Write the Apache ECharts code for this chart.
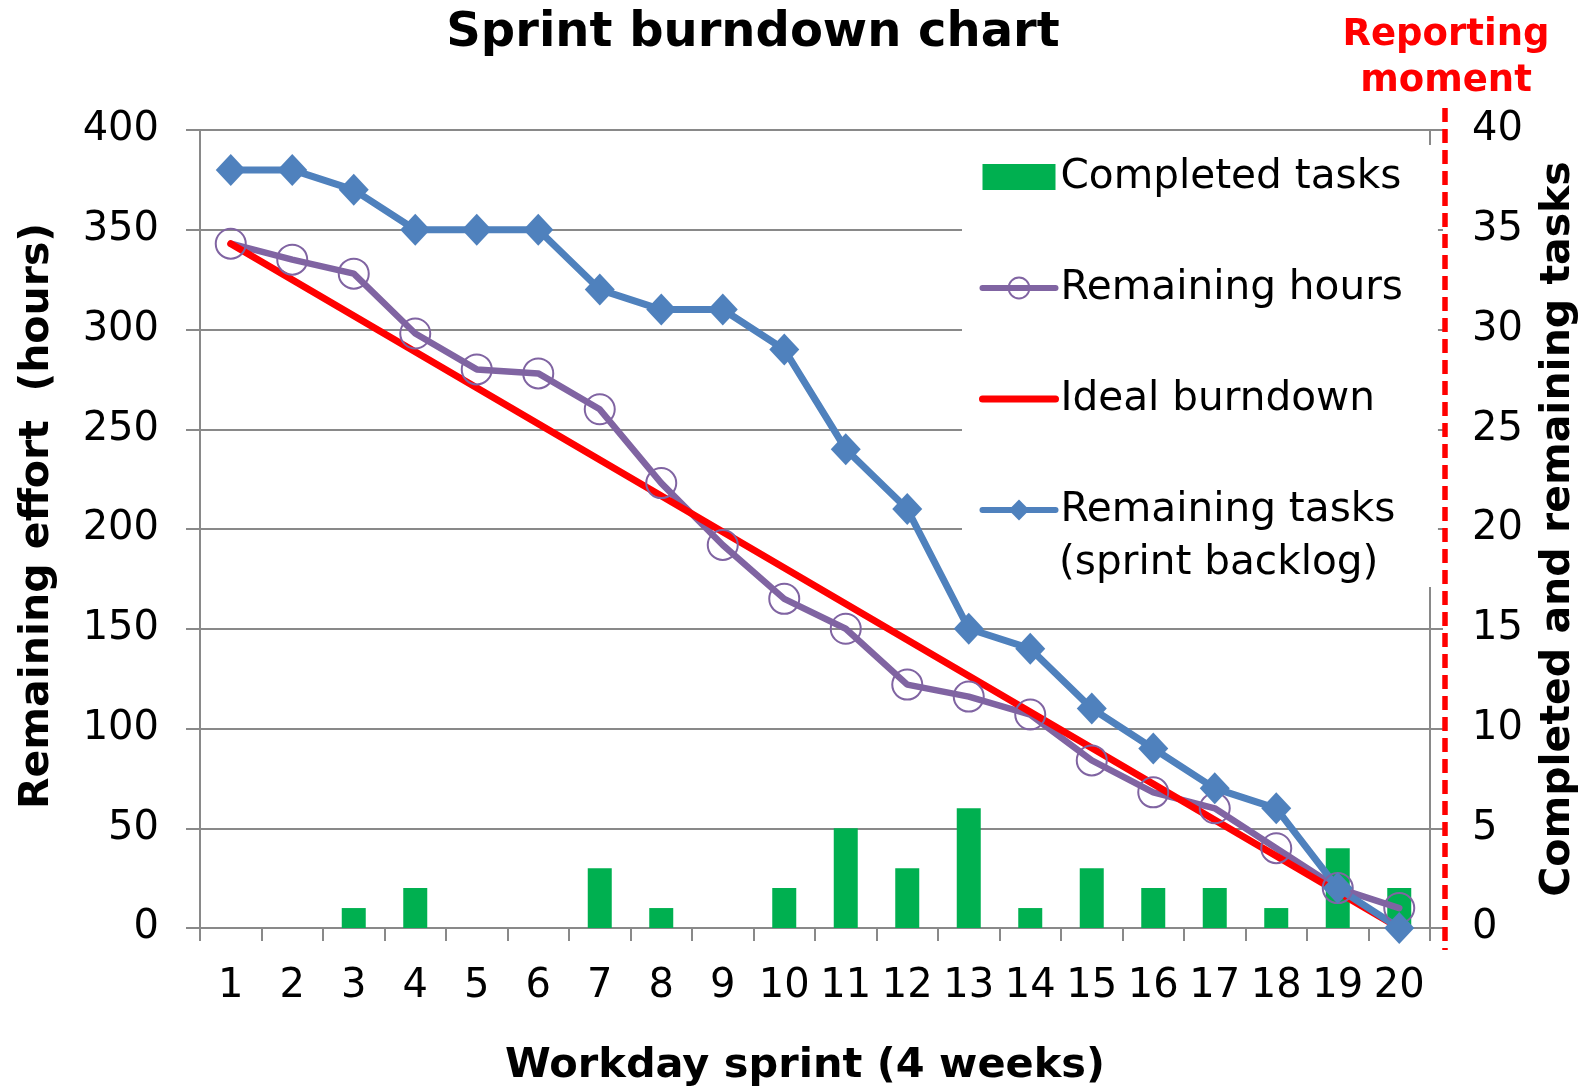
<!DOCTYPE html>
<html><head><meta charset="utf-8">
<script src="https://cdn.jsdelivr.net/npm/echarts@6/dist/echarts.min.js"></script>
<style>html,body{margin:0;padding:0;background:#fff}#c{width:1586px;height:1087px}</style>
</head><body><div id="c"></div>
<script>
const days = ['1','2','3','4','5','6','7','8','9','10','11','12','13','14','15','16','17','18','19','20'];
const completedTasks = [0,0,1,2,0,0,3,1,0,2,5,3,6,1,3,2,2,1,4,2];
const remainingHours = [343,335,328,298,280,278,260,223,192,165,150,122,116,107,84,68,60,40,20,10];
const idealBurndown = [343,'-','-','-','-','-','-','-','-','-','-','-','-','-','-','-','-','-','-',0];
const remainingTasks = [38,38,37,35,35,35,32,31,31,29,24,21,15,14,11,9,7,6,2,0];
const seriesNames = ['Completed tasks','Remaining hours','Ideal burndown','Remaining tasks (sprint backlog)'];

const FONT = '"DejaVu Sans", Verdana, sans-serif';
const GRAY = '#898989';
const chart = echarts.init(document.getElementById('c'), null, {renderer:'canvas'});
chart.setOption({
  backgroundColor:'#ffffff',
  animation:false,
  textStyle:{fontFamily:FONT},
  grid:{left:200,right:156,top:130,bottom:159,containLabel:false},
  legend:{
    orient:'vertical', left:962, top:145,
    padding:[10,35,55,17],
    backgroundColor:'#ffffff',
    itemWidth:73, itemHeight:26, itemGap:67,
    selectedMode:false,
    data:[
      {name:seriesNames[0], icon:'rect'},
      {name:seriesNames[1], lineStyle:{width:6,color:'#8064A2',cap:'round'}},
      {name:seriesNames[2], lineStyle:{width:7,color:'#FF0000',cap:'round'}, itemStyle:{opacity:0}},
      {name:seriesNames[3], lineStyle:{width:6,color:'#4F81BD',cap:'round'}}
    ],
    formatter:n=>n.split(' (')[0],
    textStyle:{fontSize:40.6,color:'#000',fontFamily:FONT,lineHeight:44}
  },
  xAxis:{
    type:'category', data:days, boundaryGap:true,
    axisLine:{lineStyle:{color:GRAY,width:2}},
    axisTick:{show:true,length:13,lineStyle:{color:GRAY,width:2}},
    axisLabel:{interval:0,margin:39,fontSize:40,color:'#000',fontFamily:FONT}
  },
  yAxis:[{
    type:'value', min:0, max:400, interval:50, position:'left',
    axisLine:{show:true,lineStyle:{color:GRAY,width:2}},
    axisTick:{show:true,length:14,lineStyle:{color:GRAY,width:2}},
    axisLabel:{margin:41,fontSize:40,color:'#000',fontFamily:FONT,padding:[9,0,0,0]},
    splitLine:{show:true,lineStyle:{color:GRAY,width:2}}
  },{
    type:'value', min:0, max:40, interval:5, position:'right',
    axisLine:{show:true,lineStyle:{color:GRAY,width:2}},
    axisTick:{show:true,length:13,lineStyle:{color:GRAY,width:2}},
    axisLabel:{margin:42,fontSize:40,color:'#000',fontFamily:FONT,padding:[9,0,0,0]},
    splitLine:{show:false}
  }],
  series:[{
    name:seriesNames[0], type:'bar', yAxisIndex:1, data:completedTasks,
    barWidth:24, itemStyle:{color:'#00B050'}
  },{
    name:seriesNames[1], type:'line', yAxisIndex:0, data:remainingHours,
    symbol:'circle', symbolSize:30,
    itemStyle:{color:'rgba(255,255,255,0)',borderColor:'#8064A2',borderWidth:2},
    lineStyle:{color:'#8064A2',width:6.5,cap:'round'}
  },{
    name:seriesNames[2], type:'line', yAxisIndex:0, data:idealBurndown,
    connectNulls:true, showSymbol:false, symbol:'none',
    itemStyle:{color:'#FF0000'},
    lineStyle:{color:'#FF0000',width:7,cap:'round'}
  },{
    name:seriesNames[3], type:'line', yAxisIndex:1, data:remainingTasks,
    symbol:'diamond', symbolSize:[30,32],
    itemStyle:{color:'#4F81BD'},
    lineStyle:{color:'#4F81BD',width:7,cap:'round'}
  }],
  graphic:[
    {type:'text', x:753, y:34, z:100, style:{text:'Sprint burndown chart', font:'bold 48px '+FONT, fill:'#000', align:'center', verticalAlign:'middle'}},
    {type:'text', x:1446, y:58, z:100, style:{text:'Reporting\nmoment', font:'bold 37px '+FONT, fill:'#FF0000', align:'center', verticalAlign:'middle', lineHeight:46}},
    {type:'line', z:100, shape:{x1:1445,y1:108,x2:1445,y2:950}, style:{stroke:'#FF0000',lineWidth:5.5,lineDash:[14,7]}},
    {type:'text', x:37, y:516, rotation:Math.PI/2, z:100, style:{text:'Remaining effort  (hours)', font:'bold 41px '+FONT, fill:'#000', align:'center', verticalAlign:'middle'}},
    {type:'text', x:1558, y:529, rotation:Math.PI/2, z:100, style:{text:'Completed and remaining tasks', font:'bold 41px '+FONT, fill:'#000', align:'center', verticalAlign:'middle'}},
    {type:'text', x:805, y:1066, z:100, style:{text:'Workday sprint (4 weeks)', font:'bold 41.5px '+FONT, fill:'#000', align:'center', verticalAlign:'middle'}},
    {type:'text', x:1059, y:563, z:100, style:{text:'(sprint backlog)', font:'40.6px '+FONT, fill:'#000', align:'left', verticalAlign:'middle'}}
  ]
});
</script></body></html>
